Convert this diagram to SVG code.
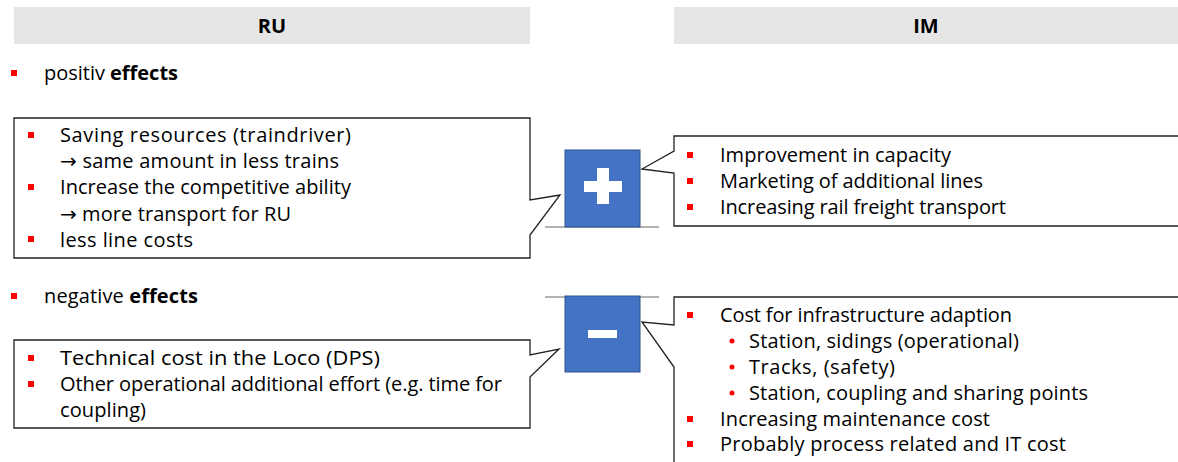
<svg xmlns="http://www.w3.org/2000/svg" width="1178" height="462" viewBox="0 0 1178 462">
<style>
text{font-family:"Open Sans","Liberation Sans",Arial,sans-serif;fill:#000}
.hdr{font-size:20px;font-weight:bold;text-anchor:middle}
.t{font-size:20px}
.b{font-weight:bold}
.ar{font-family:"DejaVu Sans",sans-serif;font-size:20px}
.box{fill:#fff;stroke:#222;stroke-width:1.3}
.sq{fill:#4472C4;stroke:#2F528F;stroke-width:1}
.bul{fill:#FF0000}
.rule{stroke:#666;stroke-width:1}
</style>
<rect width="1178" height="462" fill="#fff"/>
<g id="header-ru"><rect x="14" y="7" width="516" height="37" fill="#E6E6E6"/><text class="hdr" x="272" y="33">RU</text></g>
<g id="header-im"><rect x="674" y="7" width="504" height="37" fill="#E6E6E6"/><text class="hdr" x="926" y="33">IM</text></g>
<g id="label-pos"><rect class="bul" x="11" y="70" width="6" height="6"/><text class="t" x="44" y="80" textLength="134" lengthAdjust="spacing">positiv <tspan class="b">effects</tspan></text></g>
<g id="label-neg"><rect class="bul" x="11" y="293" width="6" height="6"/><text class="t" x="44" y="303" textLength="154" lengthAdjust="spacing">negative <tspan class="b">effects</tspan></text></g>
<g id="connectors">
<line class="rule" x1="545" y1="227" x2="659" y2="227"/>
<line class="rule" x1="545" y1="297" x2="659" y2="297"/>
</g>
<g id="ru-positive">
<path class="box" d="M14,118 H530 V200 L560,195 L530,235 V258 H14 Z"/>
<rect class="bul" x="28" y="132" width="6" height="6"/>
<rect class="bul" x="28" y="184" width="6" height="6"/>
<rect class="bul" x="28" y="236" width="6" height="6"/>
<text class="t" x="60" y="142" textLength="291" lengthAdjust="spacing">Saving resources (traindriver)</text>
<text class="t" x="60" y="168" textLength="279" lengthAdjust="spacing"><tspan class="ar">→</tspan> same amount in less trains</text>
<text class="t" x="60" y="194" textLength="291" lengthAdjust="spacing">Increase the competitive ability</text>
<text class="t" x="60" y="221" textLength="231" lengthAdjust="spacing"><tspan class="ar">→</tspan> more transport for RU</text>
<text class="t" x="60" y="247" textLength="133" lengthAdjust="spacing">less line costs</text>
</g>
<g id="plus">
<rect class="sq" x="565" y="150" width="75" height="77"/>
<rect x="584" y="181" width="38" height="11" fill="#fff"/>
<rect x="597" y="168" width="12" height="36" fill="#fff"/>
</g>
<g id="minus">
<rect class="sq" x="565" y="296" width="75" height="76"/>
<rect x="588" y="330" width="29" height="8" fill="#fff"/>
</g>
<g id="im-positive">
<path class="box" d="M674,136 H1185 V226 H674 V173 L642,169 L674,151 Z"/>
<rect class="bul" x="687" y="152" width="6" height="6"/>
<rect class="bul" x="687" y="178" width="6" height="6"/>
<rect class="bul" x="687" y="204" width="6" height="6"/>
<text class="t" x="720" y="162" textLength="231" lengthAdjust="spacing">Improvement in capacity</text>
<text class="t" x="720" y="188" textLength="263" lengthAdjust="spacing">Marketing of additional lines</text>
<text class="t" x="720" y="214" textLength="286" lengthAdjust="spacing">Increasing rail freight transport</text>
</g>
<g id="ru-negative">
<path class="box" d="M14,340 H530 V355 L559,349 L530,377 V428 H14 Z"/>
<rect class="bul" x="28" y="355" width="6" height="6"/>
<rect class="bul" x="28" y="381" width="6" height="6"/>
<text class="t" x="60" y="365" textLength="320" lengthAdjust="spacingAndGlyphs">Technical cost in the Loco (DPS)</text>
<text class="t" x="60" y="391" textLength="442" lengthAdjust="spacing">Other operational additional effort (e.g. time for</text>
<text class="t" x="60" y="417" textLength="86" lengthAdjust="spacing">coupling)</text>
</g>
<g id="im-negative">
<path class="box" d="M674,297 H1185 V475 H674 V367 L642,322 L674,325 Z"/>
<rect class="bul" x="687" y="312" width="6" height="6"/>
<circle class="bul" cx="732" cy="341" r="2.5"/>
<circle class="bul" cx="732" cy="367" r="2.5"/>
<circle class="bul" cx="732" cy="393" r="2.5"/>
<rect class="bul" x="687" y="416" width="6" height="6"/>
<rect class="bul" x="687" y="441" width="6" height="6"/>
<text class="t" x="720" y="322" textLength="292" lengthAdjust="spacing">Cost for infrastructure adaption</text>
<text class="t" x="749" y="348" textLength="270" lengthAdjust="spacing">Station, sidings (operational)</text>
<text class="t" x="749" y="374" textLength="146" lengthAdjust="spacing">Tracks, (safety)</text>
<text class="t" x="749" y="400" textLength="339" lengthAdjust="spacing">Station, coupling and sharing points</text>
<text class="t" x="720" y="426" textLength="270" lengthAdjust="spacing">Increasing maintenance cost</text>
<text class="t" x="720" y="451" textLength="346" lengthAdjust="spacing">Probably process related and IT cost</text>
</g>
</svg>
